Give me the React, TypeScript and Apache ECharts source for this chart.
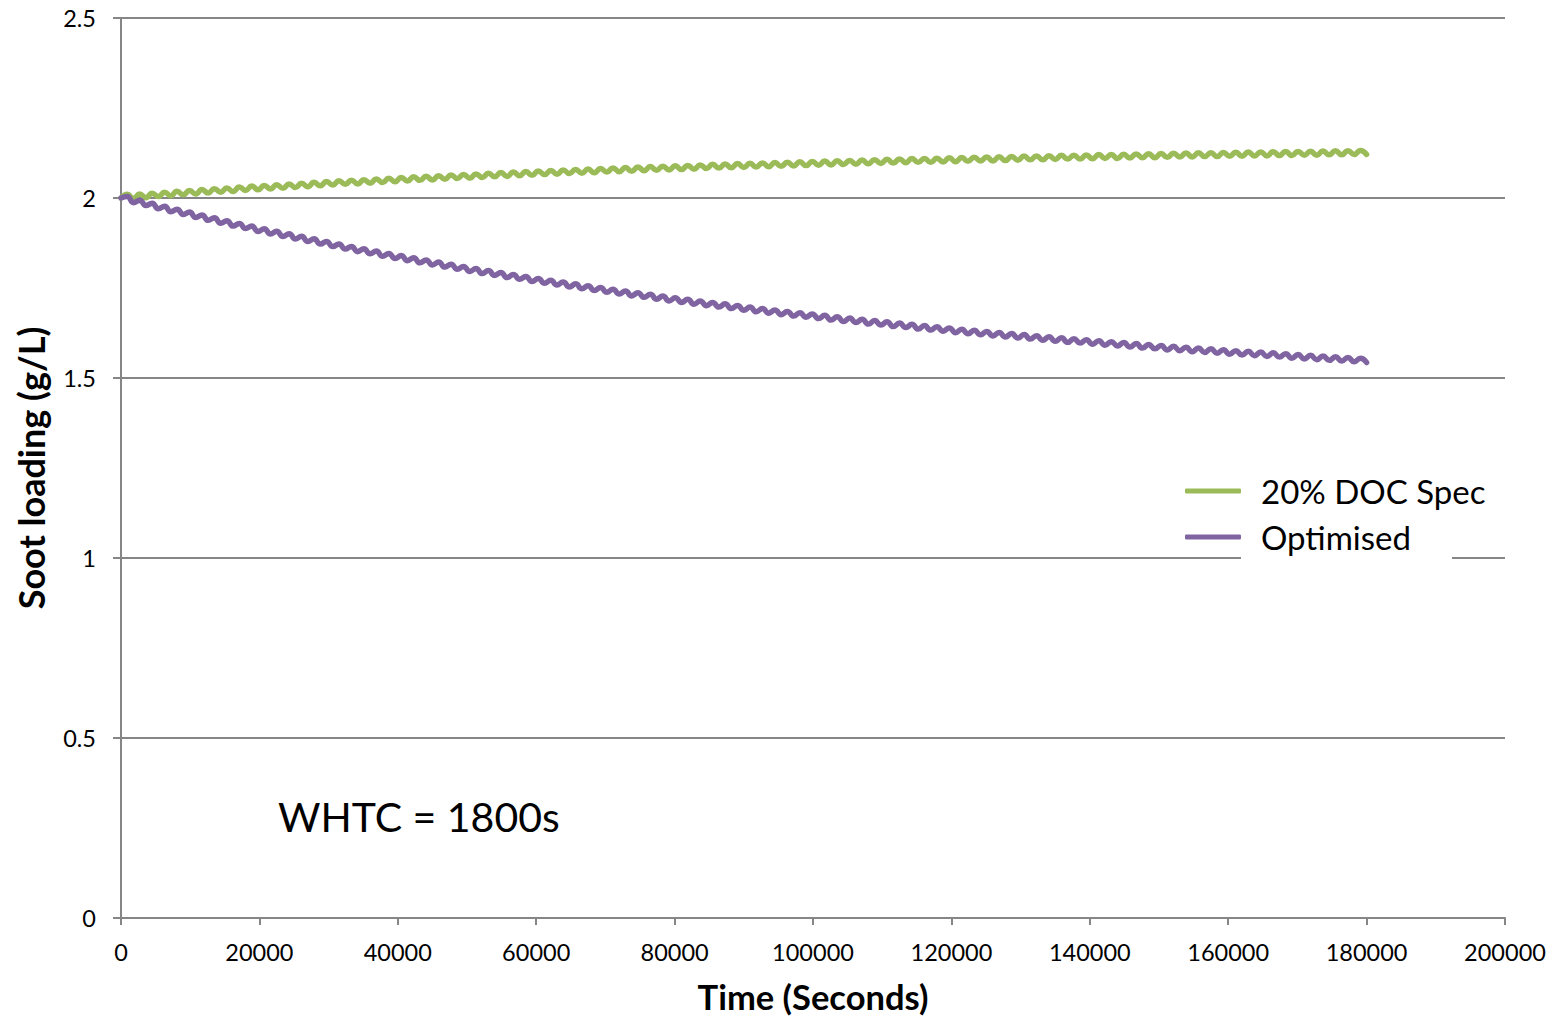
import React, { useEffect, useRef } from "react";
import * as echarts from "echarts";

// One WHTC cycle in seconds
const CYCLE_SECONDS = 1800;

// Soot loading at the start of each WHTC cycle (cycle 0..100)
const docSpecCycleStart = [
  2.000, 1.999, 2.001, 2.004, 2.006, 2.009, 2.011, 2.014, 2.016, 2.018,
  2.021, 2.023, 2.025, 2.027, 2.029, 2.031, 2.034, 2.036, 2.038, 2.039,
  2.041, 2.043, 2.045, 2.047, 2.049, 2.050, 2.052, 2.054, 2.055, 2.057,
  2.059, 2.060, 2.062, 2.063, 2.065, 2.066, 2.068, 2.069, 2.070, 2.072,
  2.073, 2.074, 2.076, 2.077, 2.078, 2.079, 2.080, 2.082, 2.083, 2.084,
  2.085, 2.086, 2.087, 2.088, 2.089, 2.090, 2.091, 2.092, 2.093, 2.094,
  2.095, 2.096, 2.097, 2.098, 2.099, 2.099, 2.100, 2.101, 2.102, 2.103,
  2.103, 2.104, 2.105, 2.106, 2.106, 2.107, 2.108, 2.108, 2.109, 2.110,
  2.110, 2.111, 2.112, 2.112, 2.113, 2.114, 2.114, 2.115, 2.115, 2.116,
  2.116, 2.117, 2.117, 2.118, 2.118, 2.119, 2.119, 2.120, 2.120, 2.121,
  2.121,
];

const optimisedCycleStart = [
  2.000, 1.987, 1.979, 1.970, 1.962, 1.954, 1.946, 1.938, 1.930, 1.922,
  1.915, 1.907, 1.900, 1.893, 1.886, 1.879, 1.872, 1.865, 1.858, 1.851,
  1.845, 1.838, 1.832, 1.826, 1.820, 1.814, 1.808, 1.802, 1.796, 1.790,
  1.785, 1.779, 1.774, 1.768, 1.763, 1.758, 1.753, 1.748, 1.743, 1.738,
  1.733, 1.728, 1.724, 1.719, 1.714, 1.710, 1.705, 1.701, 1.697, 1.693,
  1.688, 1.684, 1.680, 1.676, 1.672, 1.669, 1.665, 1.661, 1.657, 1.654,
  1.650, 1.647, 1.643, 1.640, 1.636, 1.633, 1.630, 1.626, 1.623, 1.620,
  1.617, 1.614, 1.611, 1.608, 1.605, 1.602, 1.599, 1.597, 1.594, 1.591,
  1.589, 1.586, 1.583, 1.581, 1.578, 1.576, 1.573, 1.571, 1.569, 1.566,
  1.564, 1.562, 1.560, 1.558, 1.555, 1.553, 1.551, 1.549, 1.547, 1.545,
  1.543,
];

// Rise of soot loading in the middle of each cycle above the cycle's start/end line
const midCycleSwing = [0.011, 0.011];

const seriesNames = ["20% DOC Spec", "Optimised"];
const seriesColors = ["#9BBB59", "#8064A2"];

const yTicks = [0, 0.5, 1, 1.5, 2, 2.5];
const xTicks = [0, 20000, 40000, 60000, 80000, 100000, 120000, 140000, 160000, 180000, 200000];

const FONT = "Lato, 'Liberation Sans', sans-serif";

function buildPoints(starts: number[], swing: number): [number, number][] {
  const pts: [number, number][] = [];
  for (let k = 0; k < starts.length; k++) {
    pts.push([k * CYCLE_SECONDS, starts[k]]);
    if (k < starts.length - 1) {
      pts.push([k * CYCLE_SECONDS + CYCLE_SECONDS / 2, (starts[k] + starts[k + 1]) / 2 + swing]);
    }
  }
  return pts;
}

export default function App() {
  const ref = useRef<HTMLDivElement>(null);

  useEffect(() => {
    if (!ref.current) return;
    const chart = echarts.init(ref.current, null, { renderer: "svg" });
    const data = [
      buildPoints(docSpecCycleStart, midCycleSwing[0]),
      buildPoints(optimisedCycleStart, midCycleSwing[1]),
    ];
    chart.setOption({
      animation: false,
      backgroundColor: "#ffffff",
      grid: {
        left: 121,
        right: 51,
        top: 18,
        bottom: 100,
        containLabel: false,
        outerBoundsMode: "none",
      },
      xAxis: {
        type: "value",
        min: xTicks[0],
        max: xTicks[xTicks.length - 1],
        interval: xTicks[1] - xTicks[0],
        name: "Time (Seconds)",
        nameLocation: "middle",
        nameGap: 61,
        nameTextStyle: {
          fontFamily: FONT,
          fontWeight: "bold",
          fontSize: 34.5,
          lineHeight: 34,
          color: "#000",
        },
        axisLine: { show: true, lineStyle: { color: "#868686", width: 2 } },
        axisTick: { show: true, length: 7, lineStyle: { color: "#868686", width: 2 } },
        axisLabel: {
          fontFamily: FONT,
          fontSize: 23.5,
          color: "#000",
          margin: 22,
          formatter: (v: number) => String(v),
        },
        splitLine: { show: false },
      },
      yAxis: {
        type: "value",
        min: yTicks[0],
        max: yTicks[yTicks.length - 1],
        interval: yTicks[1] - yTicks[0],
        name: "Soot loading (g/L)",
        nameLocation: "middle",
        nameRotate: 90,
        nameGap: 72,
        nameTextStyle: { fontFamily: FONT, fontWeight: "bold", fontSize: 36, color: "#000" },
        axisLine: { show: true, lineStyle: { color: "#868686", width: 2 } },
        axisTick: { show: true, length: 8, lineStyle: { color: "#868686", width: 2 } },
        axisLabel: {
          fontFamily: FONT,
          fontSize: 23.5,
          color: "#000",
          margin: 25,
          formatter: (v: number) => String(v),
        },
        splitLine: { show: true, lineStyle: { color: "#868686", width: 2 } },
      },
      legend: {
        orient: "vertical",
        left: 1180,
        top: 466,
        itemWidth: 56,
        itemHeight: 5,
        itemGap: 6,
        icon: "roundRect",
        data: seriesNames,
        textStyle: {
          fontFamily: FONT,
          fontSize: 33,
          color: "#000",
          lineHeight: 40,
          padding: [0, 0, 0, 15],
        },
      },
      graphic: [
        {
          type: "rect",
          z: 3,
          shape: { x: 1241, y: 466, width: 211, height: 98 },
          style: { fill: "#ffffff" },
        },
        {
          type: "text",
          z: 5,
          x: 278,
          y: 816,
          style: {
            text: "WHTC = 1800s",
            fontFamily: FONT,
            fontSize: 41,
            fill: "#000",
            textVerticalAlign: "middle",
            verticalAlign: "middle",
          },
        },
      ],
      series: seriesNames.map((name, i) => ({
        name,
        type: "line",
        data: data[i],
        smooth: true,
        showSymbol: false,
        symbol: "none",
        color: seriesColors[i],
        lineStyle: { color: seriesColors[i], width: 5.5, cap: "round", join: "round" },
        z: 2,
      })),
    });
    return () => chart.dispose();
  }, []);

  return (
    <div
      ref={ref}
      style={{ position: "absolute", left: 0, top: 0, width: 1556, height: 1018 }}
    />
  );
}
